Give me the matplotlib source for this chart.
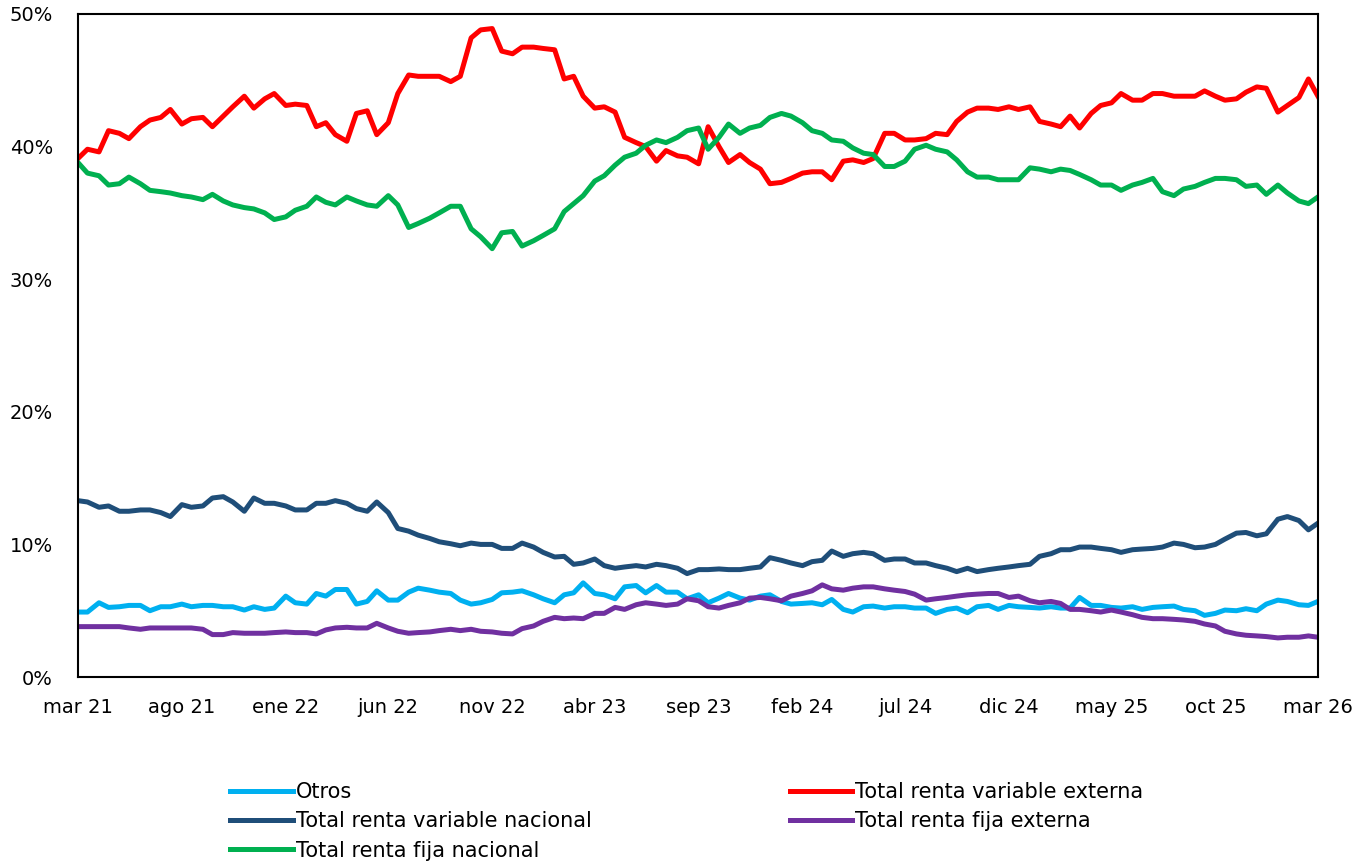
import matplotlib
matplotlib.use('Agg')
import matplotlib.pyplot as plt
import pandas as pd

# semi-monthly observations, mar 21 -> mar 26
dates = pd.date_range('2021-03-01', periods=121, freq='SMS')

otros = [4.9, 4.9, 5.6, 5.25, 5.3, 5.4, 5.4, 5.0, 5.3, 5.3,
         5.5, 5.3, 5.4, 5.4, 5.3, 5.3, 5.05, 5.3, 5.1, 5.2,
         6.1, 5.6, 5.5, 6.3, 6.1, 6.6, 6.6, 5.5, 5.7, 6.5,
         5.8, 5.8, 6.4, 6.7, 6.55, 6.4, 6.3, 5.8, 5.5, 5.6,
         5.85, 6.35, 6.4, 6.5, 6.2, 5.9, 5.6, 6.2, 6.35, 7.1,
         6.3, 6.2, 5.9, 6.8, 6.9, 6.35, 6.9, 6.4, 6.4, 5.9,
         6.2, 5.6, 5.95, 6.3, 5.95, 5.8, 6.1, 6.2, 5.7, 5.5,
         5.55, 5.6, 5.45, 5.85, 5.1, 4.9, 5.3, 5.35, 5.2, 5.3,
         5.3, 5.2, 5.2, 4.8, 5.1, 5.2, 4.85, 5.3, 5.4, 5.1,
         5.4, 5.3, 5.25, 5.2, 5.3, 5.2, 5.2, 6.0, 5.4, 5.4,
         5.25, 5.2, 5.3, 5.1, 5.25, 5.3, 5.35, 5.1, 5.0, 4.65,
         4.8, 5.05, 5.0, 5.15, 5.0, 5.5, 5.8, 5.7, 5.45, 5.4,
         5.7]

rv_externa = [39.1, 39.8, 39.6, 41.2, 41.0, 40.6, 41.5, 42.0, 42.2, 42.8,
              41.7, 42.1, 42.2, 41.5, 42.3, 43.0, 43.8, 42.9, 43.6, 44.0,
              43.1, 43.2, 43.1, 41.5, 41.8, 40.9, 40.4, 42.5, 42.7, 40.9,
              41.8, 44.0, 45.4, 45.3, 45.3, 45.3, 44.9, 45.3, 48.2, 48.8,
              48.9, 47.2, 47.0, 47.5, 47.5, 47.4, 47.3, 45.1, 45.3, 43.8,
              42.9, 43.0, 42.6, 40.7, 40.3, 40.0, 38.9, 39.7, 39.3, 39.2,
              38.7, 41.5, 40.0, 38.8, 39.4, 38.8, 38.3, 37.2, 37.3, 37.6,
              38.0, 38.1, 38.1, 37.5, 38.9, 39.0, 38.8, 39.1, 41.0, 41.0,
              40.5, 40.5, 40.6, 41.0, 40.9, 41.9, 42.6, 42.9, 42.9, 42.8,
              43.0, 42.8, 43.0, 41.9, 41.7, 41.5, 42.3, 41.4, 42.5, 43.1,
              43.3, 44.0, 43.5, 43.5, 44.0, 44.0, 43.8, 43.8, 43.8, 44.2,
              43.8, 43.5, 43.6, 44.1, 44.5, 44.4, 42.6, 43.1, 43.7, 45.1,
              43.8]

rv_nacional = [13.3, 13.2, 12.8, 12.9, 12.5, 12.5, 12.6, 12.6, 12.4, 12.1,
               13.0, 12.8, 12.9, 13.5, 13.6, 13.2, 12.5, 13.5, 13.1, 13.1,
               12.9, 12.6, 12.6, 13.1, 13.1, 13.3, 13.1, 12.7, 12.5, 13.2,
               12.4, 11.2, 11.0, 10.7, 10.45, 10.2, 10.05, 9.9, 10.1, 10.0,
               10.0, 9.7, 9.7, 10.1, 9.8, 9.4, 9.05, 9.1, 8.5, 8.6,
               8.9, 8.4, 8.2, 8.3, 8.4, 8.3, 8.5, 8.4, 8.2, 7.8,
               8.1, 8.1, 8.15, 8.1, 8.1, 8.2, 8.3, 9.0, 8.8, 8.6,
               8.4, 8.7, 8.8, 9.5, 9.1, 9.3, 9.4, 9.3, 8.8, 8.9,
               8.9, 8.6, 8.6, 8.4, 8.2, 7.95, 8.2, 7.95, 8.1, 8.2,
               8.3, 8.4, 8.5, 9.1, 9.3, 9.6, 9.6, 9.8, 9.8, 9.7,
               9.6, 9.4, 9.6, 9.65, 9.7, 9.8, 10.1, 10.0, 9.75, 9.8,
               10.0, 10.4, 10.85, 10.9, 10.65, 10.8, 11.9, 12.1, 11.8, 11.1,
               11.6]

rf_externa = [3.8, 3.8, 3.8, 3.8, 3.8, 3.7, 3.6, 3.7, 3.7, 3.7,
              3.7, 3.7, 3.6, 3.2, 3.2, 3.35, 3.3, 3.3, 3.3, 3.35,
              3.4, 3.35, 3.35, 3.25, 3.55, 3.7, 3.75, 3.7, 3.7, 4.05,
              3.7, 3.45, 3.3, 3.35, 3.4, 3.5, 3.6, 3.5, 3.6, 3.45,
              3.4, 3.3, 3.25, 3.65, 3.85, 4.2, 4.5, 4.4, 4.45, 4.4,
              4.8, 4.8, 5.25, 5.1, 5.45, 5.6, 5.5, 5.4, 5.5, 5.9,
              5.75, 5.3, 5.2, 5.4, 5.6, 5.95, 6.0, 5.9, 5.75, 6.1,
              6.3, 6.5, 6.95, 6.65, 6.55, 6.7, 6.8, 6.8, 6.65, 6.55,
              6.45, 6.25, 5.8, 5.9, 6.0, 6.1, 6.2, 6.25, 6.3, 6.3,
              6.0, 6.1, 5.75, 5.6, 5.7, 5.55, 5.1, 5.1, 5.0, 4.9,
              5.05, 4.9, 4.7, 4.5, 4.4, 4.4, 4.35, 4.3, 4.2, 4.0,
              3.85, 3.45, 3.25, 3.15, 3.1, 3.05, 2.95, 3.0, 3.0, 3.1,
              3.0]

rf_nacional = [38.8, 38.0, 37.8, 37.1, 37.2, 37.7, 37.2, 36.7, 36.6, 36.5,
               36.3, 36.2, 36.0, 36.4, 35.9, 35.6, 35.4, 35.3, 35.0, 34.5,
               34.7, 35.2, 35.5, 36.2, 35.8, 35.6, 36.2, 35.9, 35.6, 35.5,
               36.3, 35.6, 33.9, 34.2, 34.6, 35.0, 35.5, 35.5, 33.8, 33.2,
               32.3, 33.5, 33.6, 32.5, 32.9, 33.3, 33.8, 35.1, 35.7, 36.3,
               37.4, 37.8, 38.6, 39.2, 39.5, 40.1, 40.5, 40.3, 40.7, 41.2,
               41.4, 39.8, 40.7, 41.7, 41.0, 41.4, 41.6, 42.2, 42.5, 42.3,
               41.8, 41.2, 41.0, 40.5, 40.4, 39.9, 39.5, 39.4, 38.5, 38.5,
               38.9, 39.8, 40.1, 39.8, 39.6, 39.0, 38.1, 37.7, 37.7, 37.5,
               37.5, 37.5, 38.4, 38.3, 38.1, 38.3, 38.2, 37.9, 37.5, 37.1,
               37.1, 36.7, 37.1, 37.3, 37.6, 36.6, 36.3, 36.8, 37.0, 37.3,
               37.6, 37.6, 37.5, 37.0, 37.1, 36.4, 37.1, 36.5, 35.9, 35.7,
               36.2]

series = [
    ('Otros', otros, '#00B0F0'),
    ('Total renta variable externa', rv_externa, '#FF0000'),
    ('Total renta variable nacional', rv_nacional, '#1F4E79'),
    ('Total renta fija externa', rf_externa, '#7030A0'),
    ('Total renta fija nacional', rf_nacional, '#00B050'),
]

tick_dates = pd.date_range('2021-03-01', periods=13, freq='5MS')
tick_labels = ['mar 21', 'ago 21', 'ene 22', 'jun 22', 'nov 22', 'abr 23', 'sep 23',
               'feb 24', 'jul 24', 'dic 24', 'may 25', 'oct 25', 'mar 26']

fig = plt.figure(figsize=(13.7, 8.63), dpi=100)
ax = fig.add_axes([0.0569, 0.2155, 0.9051, 0.7683])

lines = {}
for name, vals, col in series:
    lines[name], = ax.plot(dates, vals, color=col, lw=3.6, label=name, solid_joinstyle='round')

ax.set_xlim(dates[0], dates[-1])
ax.set_ylim(0, 50)
ax.set_yticks([0, 10, 20, 30, 40, 50])
ax.set_yticklabels([f'{v}%' for v in [0, 10, 20, 30, 40, 50]])
ax.set_xticks(tick_dates)
ax.set_xticklabels(tick_labels)
ax.tick_params(length=0, labelsize=14, colors='black')
ax.tick_params(axis='x', pad=15)
ax.tick_params(axis='y', pad=18)
for s in ax.spines.values():
    s.set_linewidth(1.5)
    s.set_color('black')

# legend: column-wise fill, so reorder handles
order = ['Otros', 'Total renta variable nacional', 'Total renta fija nacional',
         'Total renta variable externa', 'Total renta fija externa']
fig.legend([lines[n] for n in order], order, ncol=2, loc='upper left',
           bbox_to_anchor=(0.168, 0.094), frameon=False,
           prop={'family': ['Liberation Sans Narrow', 'DejaVu Sans'], 'size': 15},
           handlelength=3.0, handletextpad=0.15, columnspacing=9.5,
           labelspacing=0.45, borderaxespad=0, borderpad=0)

fig.savefig('out.png', dpi=100)
